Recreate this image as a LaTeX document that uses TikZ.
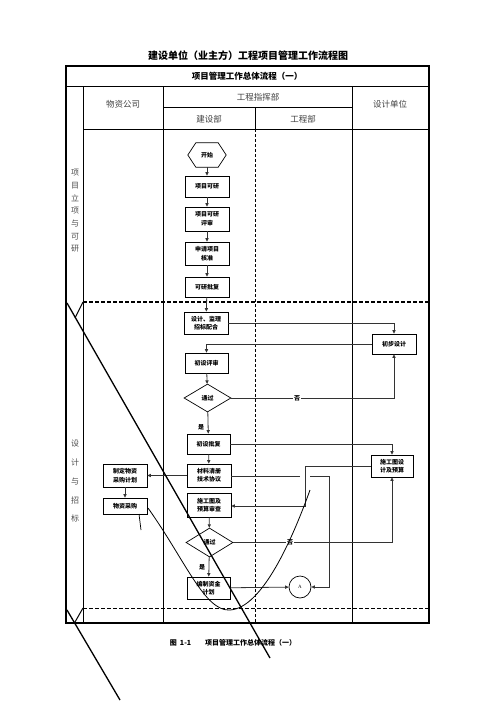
\documentclass[tikz,border=0pt]{standalone}
\usepackage{fontspec}
\setmainfont{Liberation Serif}
\newfontfamily\cjk{Noto Sans CJK SC}
\usetikzlibrary{arrows.meta,shapes.geometric,calc}
\begin{document}
\begin{tikzpicture}[x=1bp,y=-1bp,
  box/.style={draw, line width=0.8bp, minimum width=44bp, inner sep=0pt, align=center,
    font=\cjk\bfseries\fontsize{6bp}{8.5bp}\selectfont},
  dia/.style={draw, diamond, line width=0.7bp, inner sep=0pt, minimum width=47bp, minimum height=28bp,
    font=\cjk\bfseries\fontsize{6bp}{8bp}\selectfont},
  arr/.style={-{Triangle[length=3.5bp,width=3.2bp]}, line width=0.8bp, draw=black!80},
  con/.style={line width=0.8bp, draw=black!80},
  lbl/.style={font=\cjk\bfseries\fontsize{6bp}{7bp}\selectfont, inner sep=1bp},
  hdr/.style={font=\cjk\fontsize{8.5bp}{10bp}\selectfont, text=black!75},
  frm/.style={line width=1bp},
  diag/.style={line width=1.3bp}]
\useasboundingbox (0,0) rectangle (496,702);

% title
\node[font=\cjk\bfseries\fontsize{10bp}{12bp}\selectfont] (title) at (248,56) {建设单位（业主方）工程项目管理工作流程图};

% frame
\draw[line width=1.6bp] (66,66) rectangle (429,623);
\draw[frm] (66,87) -- (429,87);
\draw[frm] (83,87) -- (83,623);
\draw[frm] (163,87) -- (163,623);
\draw[frm] (352,87) -- (352,623);
\draw[frm] (163,108) -- (352,108);
\draw[frm] (83,129) -- (429,129);
\draw[line width=0.8bp] (255,108) -- (255,129);
\draw[line width=0.8bp, dash pattern=on 3bp off 2bp] (255,129) -- (255,623);
\draw[line width=1.5bp, dash pattern=on 4bp off 2bp] (83,302) -- (429,302);
\draw[line width=1bp, dash pattern=on 4bp off 2bp] (83,608) -- (429,608);

% headers
\node[font=\cjk\bfseries\fontsize{8.5bp}{10bp}\selectfont] (h0) at (247,76) {项目管理工作总体流程（一）};
\node[hdr] (h1) at (123,104) {物资公司};
\node[hdr] (h2) at (258,97) {工程指挥部};
\node[hdr] (h3) at (209,119) {建设部};
\node[hdr] (h4) at (303,119) {工程部};
\node[hdr] (h5) at (390,104) {设计单位};

% lane labels
\node[font=\cjk\fontsize{8bp}{12.7bp}\selectfont, align=center, text=black!70] (lab1) at (75,211) {项\\目\\立\\项\\与\\可\\研};
\node[font=\cjk\fontsize{8bp}{18.75bp}\selectfont, align=center, text=black!70] (lab2) at (75,481.5) {设\\计\\与\\招\\标};

% start hexagon
\node[inner sep=0pt, minimum width=38bp, minimum height=24bp, font=\cjk\bfseries\fontsize{6bp}{8bp}\selectfont] (start) at (207,155) {开始};
\draw[line width=0.7bp] (start.west) -- ([xshift=8bp]start.north west) -- ([xshift=-8bp]start.north east)
  -- (start.east) -- ([xshift=-8bp]start.south east) -- ([xshift=8bp]start.south west) -- cycle;

% nodes
\node[box, minimum height=21bp] (n1) at (207,186.5) {项目可研};
\node[box, minimum height=24bp] (n2) at (207,219) {项目可研\\评审};
\node[box, minimum height=23bp] (n3) at (207,253.5) {申请项目\\核准};
\node[box, minimum height=20bp] (n4) at (207,287) {可研批复};
\node[box, minimum height=22bp] (n5) at (206,323) {设计、监理\\招标配合};
\node[box, minimum height=20bp] (d1) at (394,344) {初步设计};
\node[box, minimum height=20bp, minimum width=43bp] (n6) at (206.5,363) {初设评审};
\node[dia] (q1) at (207.5,398) {通过};
\node[box, minimum height=20bp, minimum width=43bp] (n7) at (208.5,444) {初设批复};
\node[box, minimum height=22bp, minimum width=42bp] (d2) at (392,466) {施工图设\\计及预算};
\node[box, minimum height=23bp] (n8) at (209,475.5) {材料清册\\技术协议};
\node[box, minimum height=23bp] (w1) at (125,475.5) {制定物资\\采购计划};
\node[box, minimum height=16bp] (w2) at (125,506) {物资采购};
\node[box, minimum height=24bp] (n9) at (209,505) {施工图及\\预算审查};
\node[dia, minimum height=29bp] (q2) at (209.5,542.5) {通过};
\node[box, minimum height=22bp, minimum width=43bp] (n10) at (208.5,588) {编制资金\\计划};
\node[draw, circle, line width=0.7bp, minimum size=22bp, inner sep=0pt, font=\fontsize{5bp}{6bp}\selectfont] (A) at (300,587) {A};

% connectors
\draw[arr] (start) -- (n1);
\draw[arr] (n1) -- (n2);
\draw[arr] (n2) -- (n3);
\draw[arr] (n3) -- (n4);
\draw[arr] (n4) -- (n5);
\draw[arr] (n5.east) -| (d1.north);
\draw[arr] (d1.west) -| (n6.north);
\draw[arr] (n6) -- (q1);
\draw[arr] (q1.east) -| (d1.south);
\node[lbl, fill=white] (no1) at (297,398) {否};
\draw[arr] (q1) -- (n7);
\node[lbl] (yes1) at (201,427) {是};
\draw[arr] (n7.east) -| (d2.north);
\draw[arr] (n7) -- (n8);
\draw[arr] (n8) -- (w1);
\draw[arr] (w1) -- (w2);
\coordinate (c1) at (305,466);
\coordinate (c2) at (305,506);
\draw[arr] (d2.west) -- (c1) -- (c2) -- (n9.east |- c2);
\coordinate (c3) at (300,476);
\coordinate (c4) at (310,476);
\coordinate (c5) at (329,476);
\coordinate (c6) at (329,587);
\draw[con] (n8.east |- c3) -- (c3);
\draw[arr] (c4) -- (c5) -- (c6) -- (A.east);
\draw[arr] (n9) -- (q2);
\draw[arr] (q2.east) -| (d2.south);
\node[lbl, fill=white] (no2) at (290,542.5) {否};
\draw[arr] (q2) -- (n10);
\node[lbl] (yes2) at (202,567) {是};
\draw[arr] (n10) -- (A);

% stray strokes
\coordinate (s1) at (67,303);
\coordinate (s2) at (270,658);
\draw[diag] (s1) -- (s2);
\coordinate (s3) at (83,302);
\coordinate (s4) at (75,318);
\draw[line width=1bp] (s3) -- (s4);
\coordinate (s5) at (67,610);
\coordinate (s6) at (120,700);
\draw[diag] (s5) -- (s6);
\coordinate (s7) at (83,608);
\coordinate (s8) at (75,622);
\draw[line width=1bp] (s7) -- (s8);
\coordinate (k1) at (148,508);
\coordinate (k2) at (230,610);
\coordinate (k3) at (310,490);
\draw[line width=0.8bp] (k1) .. controls (185,560) and (205,612) .. (k2) .. controls (262,608) and (292,540) .. (k3);
\coordinate (t1) at (139,514);
\coordinate (t2) at (141,530);
\draw[line width=0.7bp] (t1) -- (t2);

% caption
\node[font=\cjk\bfseries\fontsize{7bp}{8bp}\selectfont] (cap) at (233,643) {图\ \ 1-1\hspace{14bp}项目管理工作总体流程（一）};
\end{tikzpicture}
\end{document}
